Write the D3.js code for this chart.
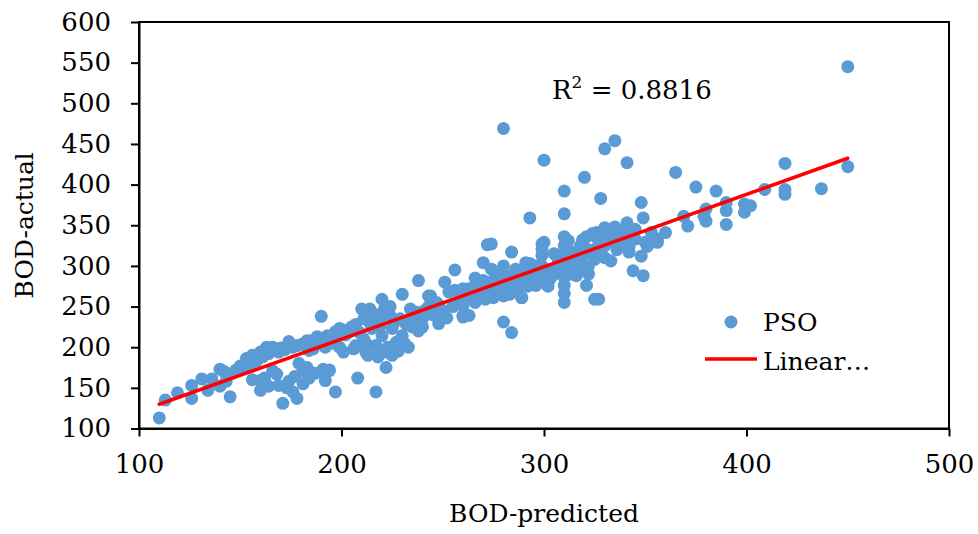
<!DOCTYPE html>
<html>
<head>
<meta charset="utf-8">
<script src="https://cdn.jsdelivr.net/npm/d3@7"></script>
<style>
    html, body { margin: 0; padding: 0; background: #ffffff; }
    #container { width: 978px; height: 534px; }
</style>
</head>
<body>
<div id="container"></div>
<script>
// BOD predicted (x) vs actual (y), PSO model
const predicted = [
    110, 113, 119, 126, 126, 131, 136, 140, 142, 134, 145, 140, 143, 150, 153, 156, 160, 163, 166, 169,
    174, 178, 183, 188, 193, 197, 190, 160, 160, 164, 169, 174, 177, 181, 171, 178, 191, 194, 192, 197,
    168, 166, 152, 155, 158, 161, 164, 167, 170, 172, 148, 146, 217, 222, 208, 230, 176, 180, 184, 186,
    190, 194, 198, 200, 205, 207, 203, 156, 162, 173, 176, 181, 184, 187, 183, 179, 181, 185, 188, 196,
    202, 186, 192, 195, 199, 184,
    196, 199, 201, 204, 207, 211, 211, 212, 214, 215, 217, 219, 220, 220, 222, 224, 225, 227, 229, 229,
    230, 234, 235, 237, 240, 243, 247, 248, 248, 251, 253, 256, 260, 260, 260, 263, 266, 270, 270, 272,
    271, 194, 210, 238, 213, 218, 223, 225, 228, 231, 212, 206, 209, 214, 217, 221, 224, 219, 226, 232,
    235, 238, 241, 244, 238, 233, 240, 245, 250, 255, 252, 258, 262, 265, 256, 248, 243, 244, 260, 280,
    284, 289, 299,
    263, 266, 270, 274, 275, 275, 280, 280, 280, 281, 284, 286, 288, 289, 291, 293, 296, 298, 299, 300,
    299, 299, 303, 304, 307, 310, 310, 310, 310, 310, 310, 310, 312, 312, 314, 316, 317, 319, 321, 321,
    321, 325, 326, 325, 329, 330, 333, 335, 335, 293, 274, 280, 300, 310, 310, 320, 328, 330, 335, 263,
    266, 268, 272, 276, 278, 282, 285, 288, 290, 294, 296, 292, 286, 283, 277, 270, 300, 300, 302, 305,
    307, 310, 310, 310, 312, 313, 305, 315, 318, 320, 322, 325, 328, 330, 333, 336, 338, 340, 343, 345,
    322, 330, 318, 326, 335, 340,
    341, 365, 375, 385, 409, 348, 341, 349, 339, 342, 344, 349, 348, 350, 356, 360, 353, 369, 371, 380,
    380, 390, 390, 390, 399, 402, 399, 327, 327, 327, 332, 345, 419, 419, 419, 437, 450, 450, 356, 379,
    319, 324, 342, 351, 293, 293, 296
];
const actual = [
    113, 135, 144, 137, 153, 161, 161, 173, 170, 147, 139, 152, 158, 177, 186, 190, 194, 200, 200, 194,
    207, 202, 208, 213, 214, 219, 238, 159, 147, 152, 153, 158, 164, 171, 131, 137, 173, 171, 159, 145,
    167, 171, 175, 178, 183, 188, 192, 196, 199, 197, 172, 168, 145, 175, 162, 265, 200, 203, 206, 204,
    209, 212, 216, 222, 225, 228, 218, 160, 162, 150, 145, 155, 162, 168, 175, 180, 204, 208, 205, 215,
    215, 198, 200, 205, 200, 196,
    206, 223, 194, 219, 202, 235, 210, 194, 247, 223, 202, 235, 259, 214, 194, 239, 223, 206, 235, 200,
    214, 247, 235, 243, 235, 263, 255, 243, 229, 280, 268, 295, 272, 251, 239, 259, 276, 280, 304, 326,
    259, 172, 247, 282, 190, 188, 200, 190, 195, 205, 205, 198, 218, 230, 240, 246, 250, 226, 230, 228,
    225, 240, 245, 248, 220, 200, 225, 240, 245, 250, 236, 256, 262, 268, 270, 252, 250, 263, 237, 231,
    218, 261, 327,
    272, 255, 282, 296, 272, 261, 300, 276, 263, 288, 317, 296, 276, 261, 304, 288, 276, 292, 313, 329,
    321, 300, 284, 296, 308, 336, 317, 300, 286, 276, 266, 255, 331, 300, 317, 288, 304, 296, 336, 321,
    276, 259, 341, 308, 329, 347, 306, 348, 337, 359, 327, 469, 430, 392, 364, 409, 383, 444, 454, 239,
    285, 270, 280, 290, 282, 278, 285, 292, 283, 296, 300, 275, 270, 265, 268, 265, 285, 295, 275, 290,
    300, 295, 305, 325, 310, 290, 315, 300, 310, 315, 300, 320, 318, 325, 330, 320, 325, 330, 340, 345,
    290, 310, 325, 335, 343, 345,
    427, 415, 397, 392, 394, 378, 353, 359, 333, 317, 294, 288, 312, 329, 333, 341, 341, 361, 349, 370,
    355, 378, 368, 351, 376, 374, 366, 259, 312, 325, 337, 333, 426, 394, 388, 395, 422, 545, 329, 361,
    332, 340, 324, 324, 303, 291, 279
];

// linear trendline as reported on the chart
const trendRange = [110, 450];
const trendSlope = 0.890;
const trendIntercept = 31.9;
const r2Label = '0.8816';

const xTicks = [100, 200, 300, 400, 500];
const yTicks = [100, 150, 200, 250, 300, 350, 400, 450, 500, 550, 600];
const seriesName = 'PSO';
const trendName = 'Linear…';

const font = '\'DejaVu Serif\', serif';
const pointColor = '#5b9bd5';
const lineColor = '#ff0000';

const plotLeft = 139, plotRight = 949, plotTop = 22, plotBottom = 428.5;

const svg = d3.select('#container')
    .append('svg')
    .attr('width', 978)
    .attr('height', 534)
    .style('background-color', '#ffffff');

const x = d3.scaleLinear()
    .domain([100, 500])
    .range([plotLeft, plotRight]);
const y = d3.scaleLinear()
    .domain([100, 600])
    .range([plotBottom, plotTop]);

// scatter points
svg.append('g')
    .selectAll('circle')
    .data(predicted.map((p, i) => [p, actual[i]]))
    .join('circle')
    .attr('cx', d => x(d[0]))
    .attr('cy', d => y(d[1]))
    .attr('r', 6.5)
    .attr('fill', pointColor);

// trendline
svg.append('line')
    .attr('x1', x(trendRange[0]))
    .attr('y1', y(trendSlope * trendRange[0] + trendIntercept))
    .attr('x2', x(trendRange[1]))
    .attr('y2', y(trendSlope * trendRange[1] + trendIntercept))
    .attr('stroke', lineColor)
    .attr('stroke-width', 3.5)
    .attr('stroke-linecap', 'round');

// plot frame
svg.append('rect')
    .attr('x', plotLeft)
    .attr('y', plotTop)
    .attr('width', plotRight - plotLeft)
    .attr('height', plotBottom - plotTop)
    .attr('fill', 'none')
    .attr('stroke', '#000000')
    .attr('stroke-width', 2);

// axes
const xAxis = svg.append('g')
    .attr('transform', `translate(0, ${plotBottom})`)
    .call(d3.axisBottom(x).tickValues(xTicks).tickSize(8).tickSizeOuter(0).tickPadding(18));
const yAxis = svg.append('g')
    .attr('transform', `translate(${plotLeft}, 0)`)
    .call(d3.axisLeft(y).tickValues(yTicks).tickSize(8).tickSizeOuter(0).tickPadding(20));
[xAxis, yAxis].forEach(axis => {
    axis.select('.domain')
        .attr('stroke', '#000000')
        .attr('stroke-width', 2);
    axis.selectAll('.tick line')
        .attr('stroke', '#000000')
        .attr('stroke-width', 2);
    axis.selectAll('.tick text')
        .style('font-family', font)
        .style('font-size', '26px')
        .attr('fill', '#000000');
});

// axis titles
svg.append('text')
    .text('BOD-predicted')
    .attr('x', (plotLeft + plotRight) / 2)
    .attr('y', 522)
    .attr('text-anchor', 'middle')
    .style('font-family', font)
    .style('font-size', '25px')
    .attr('fill', '#000000');
svg.append('text')
    .text('BOD-actual')
    .attr('transform', `translate(33, ${(plotTop + plotBottom) / 2}) rotate(-90)`)
    .attr('text-anchor', 'middle')
    .style('font-family', font)
    .style('font-size', '25px')
    .attr('fill', '#000000');

// R squared label
const r2 = svg.append('text')
    .attr('x', 552)
    .attr('y', 99)
    .style('font-family', font)
    .style('font-size', '26px')
    .attr('fill', '#000000');
r2.append('tspan').text('R');
r2.append('tspan')
    .text('2')
    .attr('dy', -11)
    .style('font-size', '17px');
r2.append('tspan')
    .text(' = ' + r2Label)
    .attr('dy', 11);

// legend
const legend = svg.append('g');
legend.append('circle')
    .attr('cx', 731)
    .attr('cy', 322)
    .attr('r', 6.5)
    .attr('fill', pointColor);
legend.append('text')
    .text(seriesName)
    .attr('x', 763)
    .attr('y', 331)
    .style('font-family', font)
    .style('font-size', '25px')
    .attr('fill', '#000000');
legend.append('line')
    .attr('x1', 705)
    .attr('y1', 359)
    .attr('x2', 757)
    .attr('y2', 359)
    .attr('stroke', lineColor)
    .attr('stroke-width', 3.5);
legend.append('text')
    .text(trendName)
    .attr('x', 763)
    .attr('y', 370)
    .style('font-family', font)
    .style('font-size', '25px')
    .attr('fill', '#000000');
</script>
</body>
</html>
